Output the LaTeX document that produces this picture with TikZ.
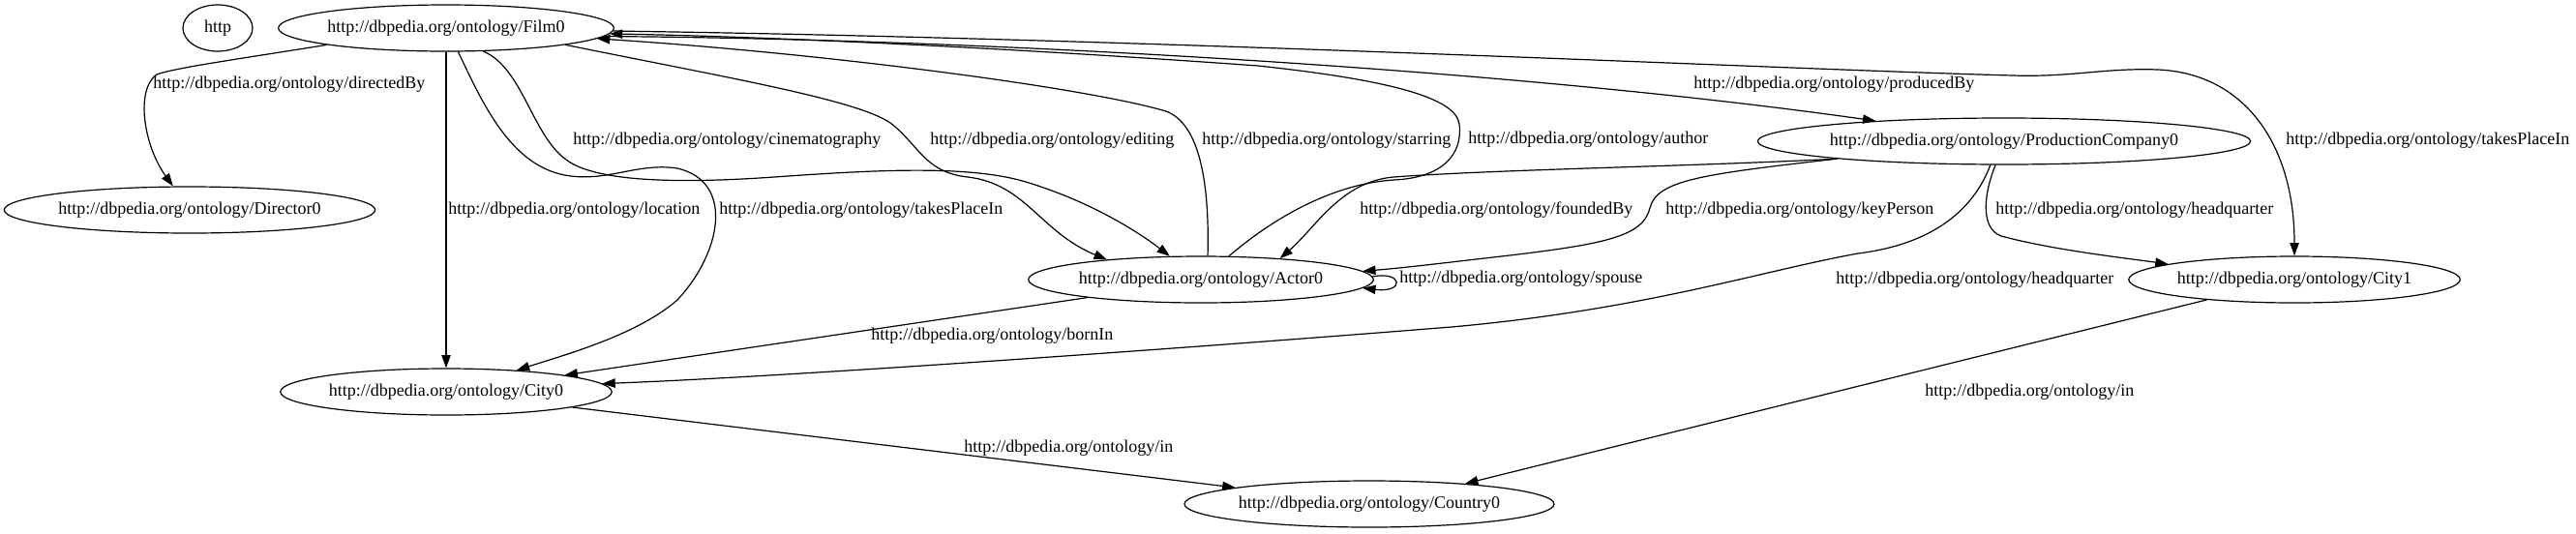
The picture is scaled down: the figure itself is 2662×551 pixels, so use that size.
\documentclass[tikz,border=0pt]{standalone}
\usepackage{fontspec}
\setmainfont{Liberation Serif}
\usetikzlibrary{shapes.geometric, arrows.meta}

\begin{document}
\begin{tikzpicture}[
  x=0.75pt, y=-0.75pt,
  every node/.style={font=\fontsize{13.5}{16}\selectfont},
  ent/.style ={draw, ellipse, line width=0.9pt, minimum height=36pt,
               minimum width=54pt, inner xsep=0pt, inner ysep=0pt},
  link/.style={-{Triangle[length=10pt, width=7pt]}, line width=0.9pt},
  lbl/.style ={anchor=west, inner sep=0pt},
]
\useasboundingbox (0,0) rectangle (2662,551);

%% ---- layout (px of a 2662 x 551 page, y downwards) ----
%%   29  http, Film0
%%  146  ProductionCompany0
%%  217  Director0
%%  289  Actor0, City1
%%  405  City0
%%  521  Country0

%% ---- entities ----
\node[ent] (httpn)    at ( 225, 29) {http};
\node[ent] (film)     at ( 461, 29) {http://dbpedia.org/ontology/Film0};
\node[ent] (prodco)   at (2071,146) {http://dbpedia.org/ontology/ProductionCompany0};
\node[ent] (director) at ( 196,217) {http://dbpedia.org/ontology/Director0};
\node[ent] (actor)    at (1241,289) {http://dbpedia.org/ontology/Actor0};
\node[ent] (city1)    at (2371,289) {http://dbpedia.org/ontology/City1};
\node[ent] (city0)    at ( 461,405) {http://dbpedia.org/ontology/City0};
\node[ent] (country)  at (1415,521) {http://dbpedia.org/ontology/Country0};

%% ---- Film0 -> Director0 ----
\draw[link] (film.188) .. controls (260,59) and (180,70) .. (162,77)
  .. controls (140,92) and (148,150) .. (director.125);
\node[lbl] (lDirectedBy) at (158,87) {http://dbpedia.org/ontology/directedBy};

%% ---- Film0 -> City0 ----
\draw[link] (film) -- (city0);
\node[lbl] (lLocation) at (463,217) {http://dbpedia.org/ontology/location};

\draw[link] (film.297) .. controls (500,110) and (530,175) .. (590,182)
  .. controls (630,187) and (660,168) .. (700,174)
  .. controls (760,188) and (745,262) .. (700,310)
  .. controls (660,345) and (590,365) .. (city0.17);
\node[lbl] (lPlaceA) at (743,217) {http://dbpedia.org/ontology/takesPlaceIn};

%% ---- Film0 <-> Actor0 ----
\draw[link] (film.328) .. controls (540,70) and (550,140) .. (585,165)
  .. controls (615,188) and (700,190) .. (800,183)
  .. controls (900,176) and (1000,170) .. (1060,188)
  .. controls (1120,206) and (1170,235) .. (actor.143);
\node[lbl] (lCinema) at (592,145) {http://dbpedia.org/ontology/cinematography};

\draw[link] (film.352) .. controls (750,80) and (885,103) .. (920,127)
  .. controls (950,150) and (955,178) .. (1000,183)
  .. controls (1060,190) and (1075,240) .. (actor.168);
\node[lbl] (lEditing) at (961,145) {http://dbpedia.org/ontology/editing};

\draw[link] (actor.74) .. controls (1250,190) and (1240,128) .. (1205,115)
  .. controls (1120,90) and (850,55) .. (film.356);
\node[lbl] (lStarring) at (1242,145) {http://dbpedia.org/ontology/starring};

\draw[link] (actor.40) .. controls (1320,222) and (1380,190) .. (1440,186)
  .. controls (1490,184) and (1512,160) .. (1508,128)
  .. controls (1504,100) and (1430,82) .. (1300,68)
  .. controls (1050,50) and (800,38) .. (film.358);
\node[lbl] (lAuthor) at (1517,144) {http://dbpedia.org/ontology/author};

%% ---- Film0 -> ProductionCompany0, City1 ----
\draw[link] (film.357) .. controls (1000,40) and (1550,70) .. (prodco.171);
\node[lbl] (lProduced) at (1750,87) {http://dbpedia.org/ontology/producedBy};

\draw[link] (film.359) .. controls (1200,40) and (1850,72) .. (2080,78)
  .. controls (2140,80) and (2175,70) .. (2230,72)
  .. controls (2320,76) and (2371,150) .. (city1.north);
\node[lbl] (lPlaceB) at (2362,145) {http://dbpedia.org/ontology/takesPlaceIn};

%% ---- ProductionCompany0 -> Actor0 ----
\draw[link] (prodco.186) .. controls (1750,172) and (1550,175) .. (1440,183)
  .. controls (1385,188) and (1360,235) .. (actor.15);
\node[lbl] (lFounded) at (1405,217) {http://dbpedia.org/ontology/foundedBy};

\draw[link] (prodco.186) .. controls (1760,180) and (1712,186) .. (1705,215)
  .. controls (1698,244) and (1660,252) .. (1560,264)
  .. controls (1490,272) and (1450,277) .. (actor.3);
\node[lbl] (lKeyPerson) at (1721,217) {http://dbpedia.org/ontology/keyPerson};

%% ---- ProductionCompany0 -> City1, City0 ----
\draw[link] (prodco.250) .. controls (2050,200) and (2046,236) .. (2068,244)
  .. controls (2120,258) and (2190,266) .. (city1.173);
\node[lbl] (lHqB) at (2062,217) {http://dbpedia.org/ontology/headquarter};

\draw[link] (prodco.240) .. controls (2040,215) and (2000,252) .. (1920,262)
  .. controls (1820,280) and (1700,320) .. (1500,338)
  .. controls (1200,362) and (800,390) .. (city0.3);
\node[lbl] (lHqA) at (1897,289) {http://dbpedia.org/ontology/headquarter};

%% ---- Actor0 ----
\draw[link] (actor.1) .. controls (1450,280) and (1452,303) .. (actor.357);
\node[lbl] (lSpouse) at (1446,288) {http://dbpedia.org/ontology/spouse};

\draw[link] (actor.189) -- (city0.8);
\node[lbl] (lBornIn) at (900,347) {http://dbpedia.org/ontology/bornIn};

%% ---- cities -> Country0 ----
\draw[link] (city0.353) -- (country.173);
\node[lbl] (lInA) at (996,463) {http://dbpedia.org/ontology/in};

\draw[link] (city1.193) -- (country.12);
\node[lbl] (lInB) at (1989,405) {http://dbpedia.org/ontology/in};

\end{tikzpicture}
\end{document}
